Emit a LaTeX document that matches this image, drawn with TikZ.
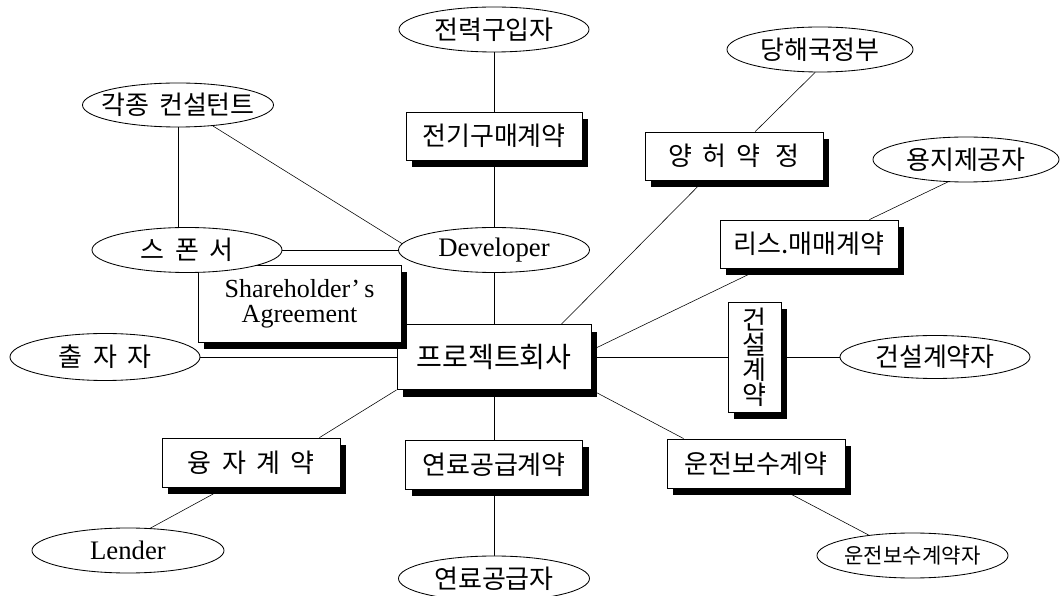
\documentclass[tikz,border=0pt]{standalone}
\usepackage{fontspec}
\setmainfont{Liberation Serif}
\newfontfamily\kr{Noto Sans CJK KR}
\usetikzlibrary{shapes.geometric, shadows, backgrounds}

\begin{document}
\begin{tikzpicture}[
  x=0.025cm, y=-0.025cm, line width=0.6pt,
  ko/.style={font=\kr\fontsize{18.5}{21}\selectfont},
  wide/.style={font={\kr\fontsize{18.5}{21}\selectfont\spaceskip 7.2pt\relax}},
  latin/.style={font=\fontsize{19}{16}\selectfont},
  party/.style={ellipse, draw, fill=white, inner xsep=-2cm, inner ysep=0pt,
                minimum width=4.75cm, minimum height=1.125cm, ko},
  deal/.style={rectangle, draw, fill=white, inner sep=0pt, align=center,
               minimum width=4.45cm, minimum height=1.2cm, ko,
               drop shadow={shadow xshift=0.16cm, shadow yshift=-0.18cm,
                            fill=black, opacity=1}}
]
\useasboundingbox (0,0) rectangle (1060,596);
% parties and contracts above the project company
\node[party] (buy) at (494,29.5) {전력구입자};
\node[party, minimum width=4.65cm] (dang) at (820,49.5) {당해국정부};
\node[party, minimum width=4.775cm, minimum height=1.1cm, wide] (cons) at (178,105) {각종 컨설턴트};
\node[party, minimum width=4.65cm] (yong) at (966,159.5) {용지제공자};
\node[deal, minimum width=4.4cm] (elec) at (494,136) {전기구매계약};
\node[deal, wide] (yh) at (734,156) {양 허 약\hspace{0.6em}정};
\node[deal] (ls) at (809,244) {리스.매매계약};
\node[party, minimum width=4.775cm, latin] (dev) at (494,250) {Developer};
% project company and the contracts around it
\node[deal, minimum width=4.85cm, minimum height=1.625cm,
      font=\kr\fontsize{20}{22}\selectfont] (pc) at (494,357) {프로젝트회사};
\node[deal, minimum width=5.075cm, minimum height=1.925cm,
      font=\fontsize{18.5}{18}\selectfont] (sha) at (299.5,303.5) {Shareholder’\,s\\Agreement};
\node[party, wide] (spon) at (187,250) {스 폰 서};
\node[party, minimum height=1.175cm, wide] (chul) at (105,357) {출 자 자};
\node[deal, minimum width=1.325cm, minimum height=2.75cm,
      font=\kr\fontsize{18.5}{17.7}\selectfont] (gs) at (754.5,357) {건\\설\\계\\약};
\node[party, minimum height=1.075cm] (gsj) at (935,357) {건설계약자};
\node[deal, minimum height=1.225cm, wide] (yj) at (251,462.5) {융 자 계 약};
\node[deal, minimum width=4.425cm, minimum height=1.225cm] (fuel) at (494,464.5) {연료공급계약};
\node[deal, minimum height=1.225cm] (ws) at (756,463.5) {운전보수계약};
\node[party, minimum width=4.8cm, latin] (lender) at (128,550.5) {Lender};
\node[party, minimum width=4.775cm] (fuelsup) at (494,578.5) {연료공급자};
\node[party, minimum width=4.775cm, font=\kr\fontsize{15}{17}\selectfont] (wsj) at (912.5,555.5) {운전보수계약자};

\begin{scope}[on background layer]
\fill[white] (0,0) rectangle (1060,596);
% centre column
\draw (buy) -- (elec);
\draw (elec) -- (dev);
\draw (dev) -- (pc);
\draw (pc) -- (fuel);
\draw (fuel) -- (fuelsup);
% sponsor side
\draw (cons.south) -- (cons.south |- spon.north);
\draw (cons.-31) -- (dev.176);
\draw (spon) -- (dev);
\draw (chul) -- (pc);
% right side
\draw (dang.-102) -- (yh.49);
\draw (yh.-141) -- (pc.26);
\draw (ls.22) -- (yong.-129);
\draw (ls.-153) -- (pc.4);
\draw (pc) -- (gs);
\draw (gs) -- (gsj);
% lower contracts
\draw (pc.south east) -- (ws.161);
\draw (ws.-46) -- (wsj.155);
\draw (pc.south west) -- (yj.20);
\draw (yj.-136) -- (lender.45);
\end{scope}
\end{tikzpicture}
\end{document}
